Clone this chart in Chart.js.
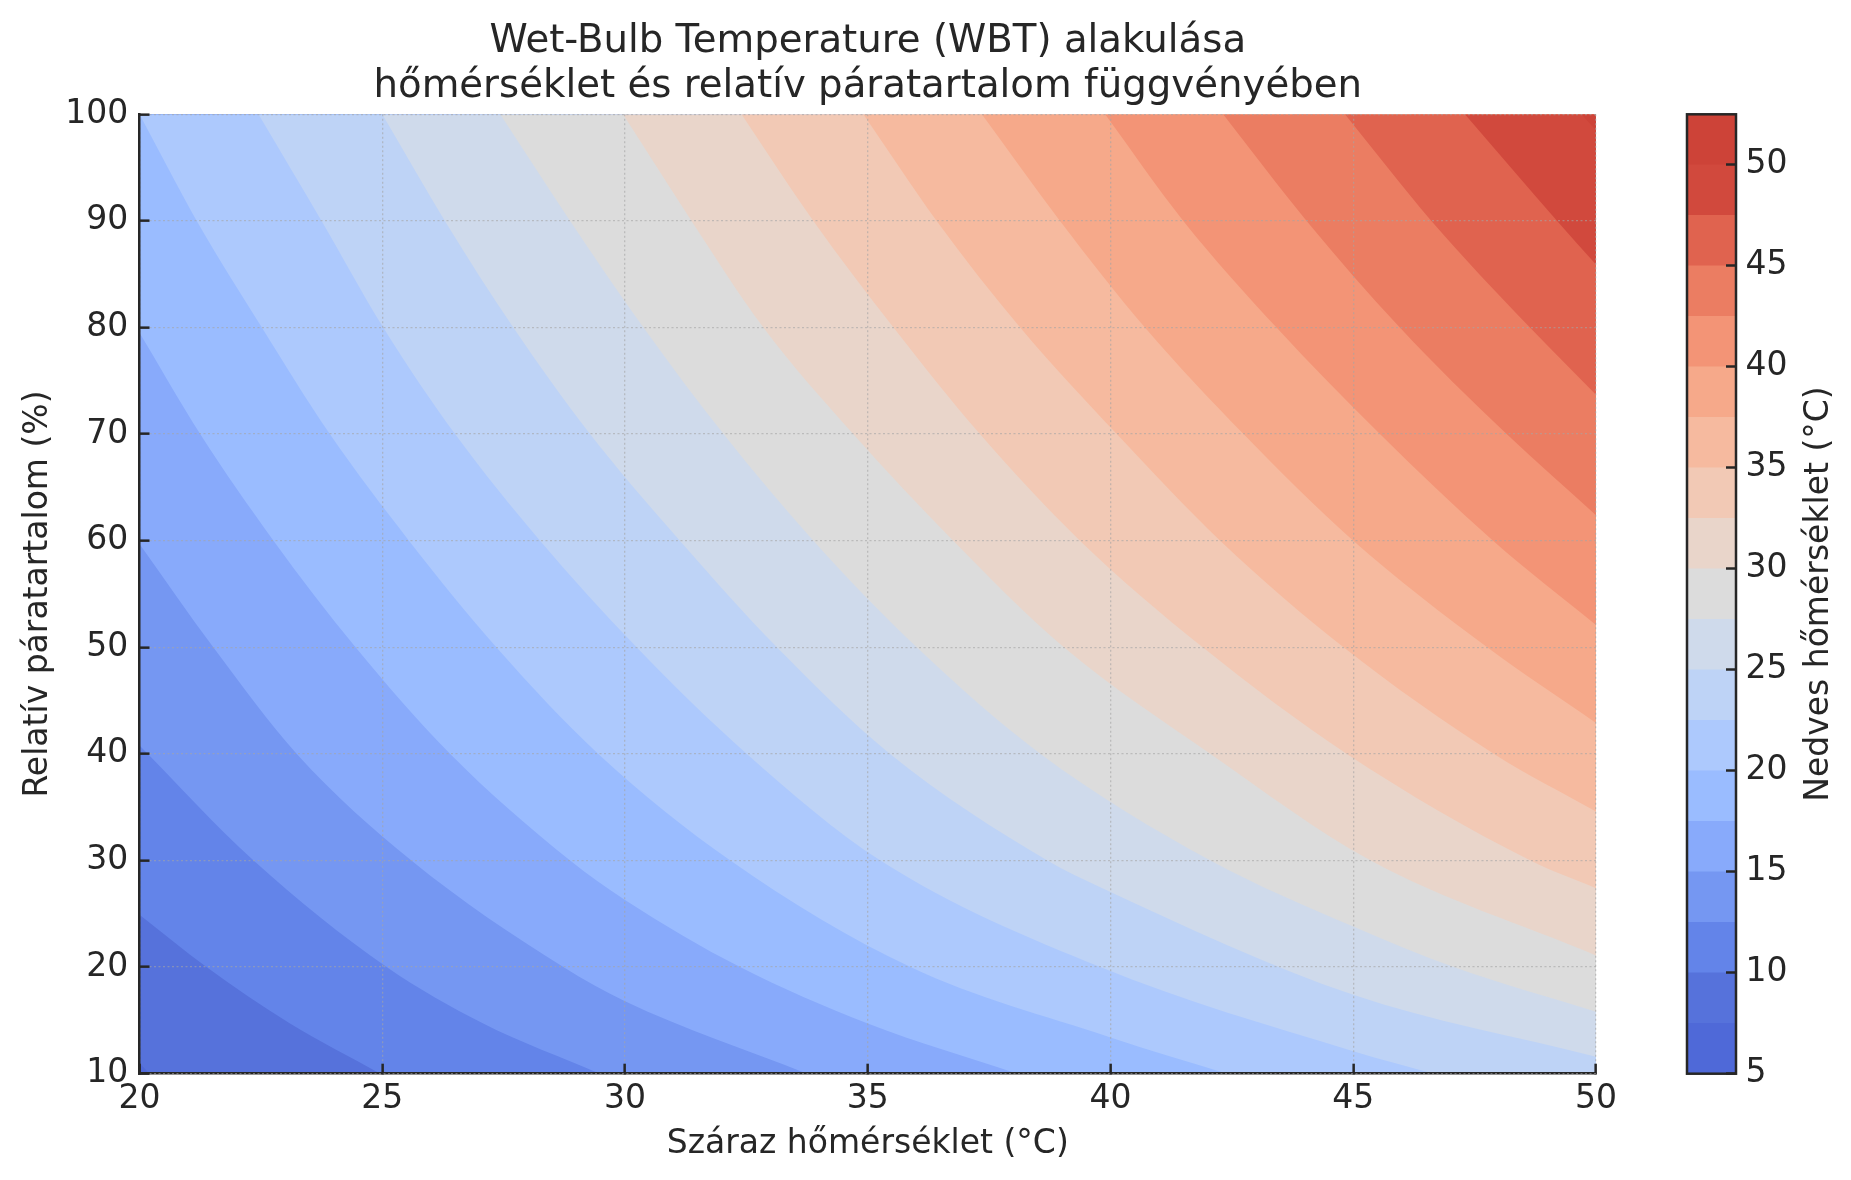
<!DOCTYPE html>
<html>
<head>
<meta charset="utf-8">
<title>Wet-Bulb Temperature</title>
<script src="https://cdn.jsdelivr.net/npm/chart.js@4.4.1/dist/chart.umd.min.js"></script>
<style>
  html, body { margin: 0; background: #ffffff; }
  #wrap { position: relative; width: 1851px; height: 1180px; }
  canvas { position: absolute; top: 0; }
  #main { left: 0; }
  #bar { left: 1640px; }
</style>
</head>
<body>
<div id="wrap">
  <canvas id="main" width="1640" height="1180"></canvas>
  <canvas id="bar" width="211" height="1180"></canvas>
</div>
<script>
const titleLines = ['Wet-Bulb Temperature (WBT) alakulása', 'hőmérséklet és relatív páratartalom függvényében'];
const xLabel = 'Száraz hőmérséklet (°C)';
const yLabel = 'Relatív páratartalom (%)';
const cbLabel = 'Nedves hőmérséklet (°C)';

const xTicks = [20, 25, 30, 35, 40, 45, 50];
const yTicks = [10, 20, 30, 40, 50, 60, 70, 80, 90, 100];
const cbTicks = [5, 10, 15, 20, 25, 30, 35, 40, 45, 50];

// contour levels (°C) and the colour of the band that starts at each level
const levels = [5, 7.5, 10, 12.5, 15, 17.5, 20, 22.5, 25, 27.5, 30, 32.5, 35, 37.5, 40, 42.5, 45, 47.5, 50, 52.5];
const bandColors = [
  '#4f69d8', '#5672db', '#6384e9', '#7597f2', '#88aafb', '#9abcff', '#adc9fd', '#bed3f6',
  '#cfdaeb', '#dcdcdc', '#e9d5ca', '#f2c9b5', '#f6ba9f', '#f6a98a', '#f39476', '#eb7d62',
  '#e0634f', '#d1493d', '#cd4338'
];

// contour lines: [dry temperature °C, relative humidity %]
const c7_5 = [[20, 11.0], [20.2, 10]];
const c10 = [[20, 24.9], [21.38, 20], [23.1, 14.7], [24.96, 10]];
const c12_5 = [[20, 40.8], [22.35, 30], [25.09, 20], [27.08, 14.7], [29.48, 10]];
const c15 = [[20, 59.7], [21.52, 50], [23.24, 40], [25.6, 30], [28.73, 20], [30, 16.8], [33.75, 10]];
const c17_5 = [[20, 79.5], [21.25, 70], [22.76, 60], [24.45, 50], [26.4, 40], [28.87, 30], [30, 26.3], [32.37, 20], [35, 14.7], [38.08, 10]];
const c20 = [[20, 100], [21.18, 90], [22.52, 80], [23.92, 70], [25.55, 60], [27.35, 50], [29.45, 40], [32.17, 30], [35.88, 20], [40, 13.4], [42.4, 10]];
const c22_5 = [[22.45, 100], [23.75, 90], [25.02, 80], [26.5, 70], [28.25, 60], [30.24, 50], [32.51, 40], [35.26, 30], [39.79, 20], [45, 12.1], [46.66, 10]];
const c25 = [[25, 100], [26.29, 90], [27.7, 80], [29.28, 70], [31.13, 60], [33.13, 50], [35.46, 40], [38.7, 30], [39.79, 27.5], [45, 17.4], [50, 11.6]];
const c27_5 = [[27.43, 100], [28.87, 90], [30.38, 80], [32.03, 70], [33.88, 60], [36.01, 50], [38.56, 40], [42.06, 30], [45, 23.8], [47.07, 20], [50, 15.8]];
const c30 = [[29.96, 100], [31.37, 90], [32.85, 80], [34.7, 70], [36.76, 60], [39.04, 50], [42.06, 40], [45.36, 30], [50, 21.1]];
const c32_5 = [[32.4, 100], [33.88, 90], [35.53, 80], [37.31, 70], [39.37, 60], [41.9, 50], [44.87, 40], [48.65, 30], [50, 27.4]];
const c35 = [[34.91, 100], [36.42, 90], [38.14, 80], [40.13, 70], [42.26, 60], [44.8, 50], [47.9, 40], [50, 34.6]];
const c37_5 = [[37.35, 100], [38.96, 90], [40.71, 80], [42.74, 70], [45, 60], [47.76, 50], [50, 42.9]];
const c40 = [[39.89, 100], [41.5, 90], [43.42, 80], [45.55, 70], [47.88, 60], [50, 52.1]];
const c42_5 = [[42.32, 100], [44.04, 90], [45.96, 80], [48.16, 70], [50, 62.4]];
const c45 = [[44.83, 100], [46.61, 90], [48.64, 80], [50, 73.7]];
const c47_5 = [[47.3, 100], [49.2, 90], [50, 85.9]];
const c50 = [[49.7, 100], [50, 98.5]];

const contourLines = [c7_5, c10, c12_5, c15, c17_5, c20, c22_5, c25, c27_5, c30,
  c32_5, c35, c37_5, c40, c42_5, c45, c47_5, c50];

const xMin = xTicks[0], xMax = xTicks[xTicks.length - 1];
const yMin = yTicks[0], yMax = yTicks[yTicks.length - 1];

const ink = '#262626';
const family = '"DejaVu Sans", sans-serif';
const tickFont = { family, size: 33 };
const labelFont = { family, size: 33 };
const gridColor = 'rgba(165, 165, 165, 0.6)';

// run each contour a little past the plot edges so "fill to top" covers the
// whole region above it; the parts outside the plot are clipped away
function closeContour(pts) {
  const p = pts.map(([x, y]) => ({ x, y }));
  const a = p[0], b = p[1];
  const m = p[p.length - 2], z = p[p.length - 1];
  const k0 = a.y >= yMax ? 6 / (a.y - b.y) : 1 / (b.x - a.x);
  const head = { x: a.x - (b.x - a.x) * k0, y: a.y + (a.y - b.y) * k0 };
  const k1 = z.y <= yMin ? 6 / (m.y - z.y) : 1 / (z.x - m.x);
  const tail = { x: z.x + (z.x - m.x) * k1, y: z.y - (m.y - z.y) * k1 };
  const out = [head, ...p, tail];
  if (z.y <= yMin) out.push({ x: xMax + 5, y: tail.y });
  return out;
}

const plotBackground = {
  id: 'plotBackground',
  beforeDatasetsDraw(chart) {
    const { ctx, chartArea: a } = chart;
    ctx.save();
    ctx.fillStyle = bandColors[0];
    ctx.fillRect(a.left, a.top, a.right - a.left, a.bottom - a.top);
    ctx.restore();
  }
};

const datasets = contourLines.map((pts, i) => ({
  label: 'WBT ' + levels[i + 1],
  data: closeContour(pts),
  backgroundColor: bandColors[i + 1],
  borderColor: 'rgba(0,0,0,0)',
  borderWidth: 0,
  fill: 'end',
  order: contourLines.length - i
}));

new Chart(document.getElementById('main'), {
  type: 'line',
  data: { datasets },
  options: {
    responsive: false,
    animation: false,
    devicePixelRatio: 1,
    layout: { padding: { left: 0, right: 44, top: 0, bottom: 0 } },
    elements: {
      point: { radius: 0, hoverRadius: 0 },
      line: { cubicInterpolationMode: 'monotone', capBezierPoints: false }
    },
    plugins: {
      legend: { display: false },
      tooltip: { enabled: false },
      title: {
        display: true,
        fullSize: false,
        text: titleLines,
        color: ink,
        font: { family, size: 38.7, weight: 'normal', lineHeight: 1.163 },
        padding: { top: 19.8, bottom: 4.5 }
      }
    },
    scales: {
      x: {
        type: 'linear',
        min: xMin,
        max: xMax,
        afterBuildTicks: s => { s.ticks = xTicks.map(v => ({ value: v })); },
        afterFit: s => { s.height = 106.3; },
        ticks: { font: tickFont, color: ink, padding: 15.5, maxRotation: 0, autoSkip: false, z: 1 },
        grid: { z: 1, color: gridColor, lineWidth: 1.3, tickLength: -10, tickWidth: 2.5, tickColor: ink },
        border: { z: 1, display: true, color: ink, width: 2.5, dash: [2, 2.5] },
        title: { display: true, text: xLabel, color: ink, font: labelFont, padding: { top: 0, bottom: 15.8 } }
      },
      y: {
        type: 'linear',
        min: yMin,
        max: yMax,
        afterBuildTicks: s => { s.ticks = yTicks.map(v => ({ value: v })); },
        afterFit: s => { s.width = 139.5; },
        ticks: { font: tickFont, color: ink, padding: 21.3, autoSkip: false, z: 1 },
        grid: { z: 1, color: gridColor, lineWidth: 1.3, tickLength: -10, tickWidth: 2.5, tickColor: ink },
        border: { z: 1, display: true, color: ink, width: 2.5, dash: [2, 2.5] },
        title: { display: true, text: yLabel, color: ink, font: labelFont, padding: { top: 18.3, bottom: 0 } }
      }
    }
  },
  plugins: [plotBackground]
});

// colour bar: one floating bar per contour band
const cbFrame = {
  id: 'cbFrame',
  afterDatasetsDraw(chart) {
    const { ctx, chartArea: a } = chart;
    ctx.save();
    ctx.strokeStyle = ink;
    ctx.lineWidth = 2.5;
    ctx.strokeRect(a.left, a.top, a.right - a.left, a.bottom - a.top);
    ctx.restore();
  },
  afterDraw(chart) {
    const { ctx, chartArea: a } = chart;
    ctx.save();
    ctx.translate(179, (a.top + a.bottom) / 2);
    ctx.rotate(-Math.PI / 2);
    ctx.font = '33px ' + family;
    ctx.fillStyle = ink;
    ctx.textAlign = 'center';
    ctx.textBaseline = 'middle';
    ctx.fillText(cbLabel, 0, 0);
    ctx.restore();
  }
};

new Chart(document.getElementById('bar'), {
  type: 'bar',
  data: {
    labels: [''],
    datasets: bandColors.map((c, i) => ({
      label: levels[i] + '–' + levels[i + 1],
      data: [[levels[i], levels[i + 1]]],
      backgroundColor: c
    }))
  },
  options: {
    responsive: false,
    animation: false,
    devicePixelRatio: 1,
    layout: { padding: { left: 47, right: 0, top: 114.3, bottom: 106.3 } },
    datasets: { bar: { grouped: false, barPercentage: 1, categoryPercentage: 1, borderWidth: 0 } },
    plugins: { legend: { display: false }, tooltip: { enabled: false } },
    scales: {
      x: { display: false },
      y: {
        position: 'right',
        min: levels[0],
        max: levels[levels.length - 1],
        afterBuildTicks: s => { s.ticks = cbTicks.map(v => ({ value: v })); },
        afterFit: s => { s.width = 115; },
        ticks: { font: tickFont, color: ink, padding: 19.5, autoSkip: false, z: 1 },
        grid: { z: 1, drawOnChartArea: false, tickLength: -10, tickWidth: 2.5, tickColor: ink },
        border: { display: false }
      }
    }
  },
  plugins: [cbFrame]
});
</script>
</body>
</html>
